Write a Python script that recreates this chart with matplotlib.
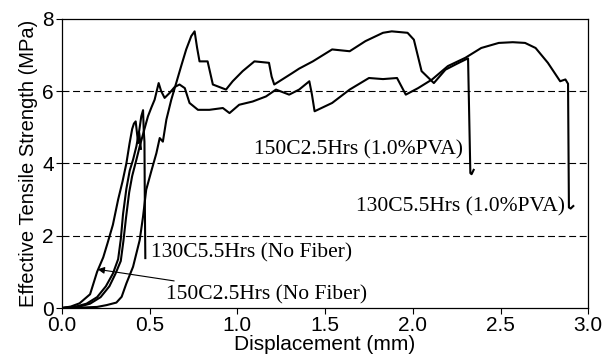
import matplotlib
matplotlib.use("Agg")
import matplotlib.pyplot as plt

# tensile test curves
nf150_x = [0, 0.05, 0.10, 0.16, 0.20, 0.235, 0.26, 0.29, 0.32, 0.345, 0.367, 0.385, 0.40, 0.41, 0.42, 0.434, 0.44, 0.45]
nf150_y = [0, 0.04, 0.13, 0.38, 1.0, 1.4, 1.8, 2.3, 3.0, 3.5, 4.0, 4.55, 4.95, 5.1, 5.16, 4.56, 4.85, 4.4]

nf130_x = [0, 0.08, 0.14, 0.20, 0.25, 0.29, 0.32, 0.335, 0.348, 0.367, 0.386, 0.405, 0.424, 0.44, 0.452, 0.462, 0.466, 0.47, 0.472, 0.475]
nf130_y = [0, 0.04, 0.12, 0.3, 0.6, 0.95, 1.35, 1.9, 2.6, 3.3, 3.8, 4.1, 4.47, 4.9, 5.3, 5.47, 4.9, 4.6, 3.0, 1.38]

pva150_x = [0, 0.1, 0.2, 0.254, 0.31, 0.34, 0.367, 0.405, 0.443, 0.462, 0.48, 0.51, 0.538, 0.557, 0.575, 0.595,
            0.623, 0.651, 0.68, 0.708, 0.737, 0.756, 0.77, 0.784, 0.83, 0.845, 0.86, 0.935, 0.973, 1.03, 1.097,
            1.18, 1.195, 1.21, 1.314, 1.352, 1.43, 1.54, 1.64, 1.73, 1.83, 1.88, 1.97, 2.006, 2.05, 2.12, 2.186,
            2.25, 2.30, 2.315, 2.328, 2.335, 2.347]
pva150_y = [0, 0.01, 0.03, 0.08, 0.15, 0.31, 0.68, 1.14, 1.88, 2.53, 3.27, 3.8, 4.28, 4.70, 4.6, 5.21,
            5.76, 6.22, 6.7, 7.15, 7.52, 7.65, 7.2, 6.82, 6.82, 6.5, 6.18, 6.04, 6.27, 6.55, 6.82,
            6.78, 6.4, 6.18, 6.5, 6.62, 6.82, 7.15, 7.10, 7.38, 7.61, 7.65, 7.61, 7.42, 6.55, 6.22, 6.59,
            6.75, 6.87, 6.9, 3.73, 3.7, 3.82]

pva130_x = [0, 0.1, 0.16, 0.22, 0.27, 0.305, 0.335, 0.35, 0.365, 0.383, 0.40, 0.424, 0.443, 0.47, 0.49, 0.51,
            0.528, 0.551, 0.565, 0.585, 0.614, 0.642, 0.67, 0.70, 0.727, 0.775, 0.84, 0.917, 0.955, 1.01, 1.087,
            1.163, 1.22, 1.295, 1.352, 1.41, 1.425, 1.44, 1.54, 1.64, 1.75, 1.83, 1.91, 1.96, 2.03, 2.11, 2.20,
            2.30, 2.39, 2.49, 2.57, 2.64, 2.70, 2.77, 2.84, 2.87, 2.885, 2.89, 2.90, 2.915]
pva130_y = [0, 0.04, 0.12, 0.3, 0.6, 0.95, 1.3, 1.85, 2.5, 3.2, 3.65, 4.1, 4.47, 4.95, 5.3, 5.55,
            5.76, 6.22, 6.0, 5.81, 5.95, 6.11, 6.18, 6.08, 5.67, 5.48, 5.48, 5.53, 5.39, 5.62, 5.71,
            5.85, 6.04, 5.90, 6.04, 6.27, 5.9, 5.44, 5.67, 6.04, 6.36, 6.33, 6.36, 5.90, 6.08, 6.32, 6.69,
            6.92, 7.19, 7.33, 7.35, 7.33, 7.19, 6.78, 6.27, 6.32, 6.2, 2.78, 2.75, 2.82]

ref_lines = [2, 4, 6]

plt.rcParams['lines.scale_dashes'] = False

fig = plt.figure(figsize=(6.14, 3.63), dpi=100)
ax = fig.add_axes([0.101, 0.1515, 0.857, 0.797])

for y in ref_lines:
    ax.axhline(y, color='k', lw=0.8, linestyle=(0, (5, 2.6)), zorder=1)

for xs, ys in [(nf150_x, nf150_y), (nf130_x, nf130_y), (pva150_x, pva150_y), (pva130_x, pva130_y)]:
    ax.plot(xs, ys, color='k', lw=1.5, zorder=3)

serif = dict(family='Liberation Serif', fontsize=15.5, va='center')
ax.text(0.51, 1.52, '130C5.5Hrs (No Fiber)', **serif)
ax.text(1.097, 4.38, '150C2.5Hrs (1.0%PVA)', **serif)
ax.text(1.674, 2.81, '130C5.5Hrs (1.0%PVA)', **serif)
ax.annotate('150C2.5Hrs (No Fiber)', xy=(0.203, 1.07), xytext=(0.595, 0.36),
            va='center', family='Liberation Serif', fontsize=15.5,
            arrowprops=dict(arrowstyle='-|>', color='k', lw=0.8, mutation_scale=10,
                            shrinkA=8, shrinkB=0))

ax.set_xlim(0, 3)
ax.set_ylim(0, 8)
ax.set_xticks([0, 0.5, 1.0, 1.5, 2.0, 2.5, 3.0])
ax.set_yticks([0, 2, 4, 6, 8])
ax.set_xticklabels(['0.0', '0.5', '1.0', '1.5', '2.0', '2.5', '3.0'])

for lab in ax.get_xticklabels() + ax.get_yticklabels():
    lab.set_family('Liberation Sans')
ax.tick_params(direction='out', length=4, width=0.8, labelsize=15, pad=2)
for s in ax.spines.values():
    s.set_linewidth(0.9)

ax.set_xlabel('Displacement (mm)', family='Liberation Sans', fontsize=15, labelpad=0)
ax.set_ylabel('Effective Tensile Strength (MPa)', family='Liberation Sans', fontsize=14.5, labelpad=3)

plt.savefig('out.png', dpi=100)
plt.close()
